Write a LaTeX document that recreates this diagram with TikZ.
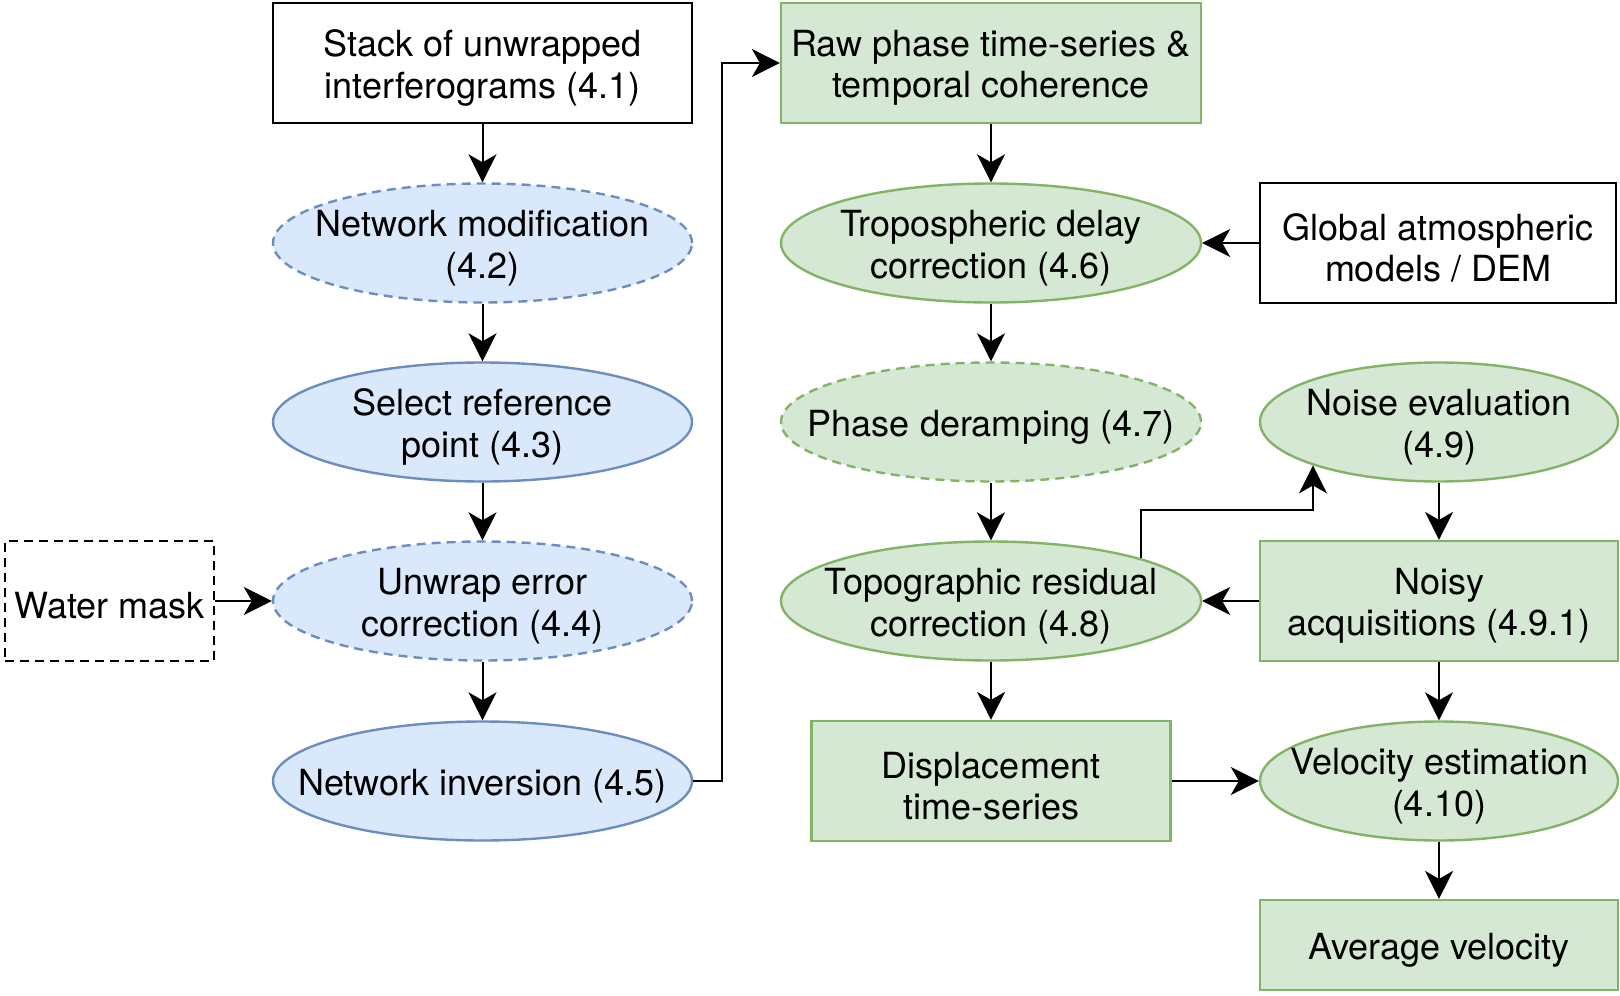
\documentclass[tikz,border=0pt]{standalone}
\usepackage{fontspec}
\setmainfont{TeX Gyre Heros}
\usetikzlibrary{shapes.geometric,arrows.meta}

\definecolor{bluefill}{HTML}{DAE8FC}
\definecolor{blueline}{HTML}{6C8EBF}
\definecolor{greenfill}{HTML}{D5E8D4}
\definecolor{greenline}{HTML}{82B366}

\tikzset{
  txt/.style={align=center, font=\fontsize{18pt}{20.7pt}\selectfont, inner sep=0pt},
  every label/.style={txt, yshift=-2.5pt},
  box/.style={rectangle, draw=black, line width=1.1pt, minimum height=60pt},
  greenbox/.style={box, draw=greenline, fill=greenfill},
  oval/.style={ellipse, line width=1.2pt, inner sep=0pt, minimum height=59.5pt},
  blueoval/.style={oval, draw=blueline, fill=bluefill},
  greenoval/.style={oval, draw=greenline, fill=greenfill},
  dashline/.style={dash pattern=on 4.5pt off 3pt},
  arr/.style={line width=1pt, -{Stealth[length=14pt, width=14pt, inset=4pt]}}
}

\begin{document}
\begin{tikzpicture}[x=0.5pt, y=-0.5pt]
\useasboundingbox (0,0) rectangle (1620,995);

% left column: interferogram processing
\node[box, minimum width=209.5pt,
  label={center:{Stack of unwrapped\\interferograms (4.1)}}] (stack) at (482.5,63) {};
\node[blueoval, dashline, minimum width=209.5pt,
  label={center:{Network modification\\(4.2)}}] (netmod) at (482.5,243) {};
\node[blueoval, minimum width=209.5pt,
  label={center:{Select reference\\point (4.3)}}] (selref) at (482.5,422) {};
\node[blueoval, dashline, minimum width=209.5pt,
  label={center:{Unwrap error\\correction (4.4)}}] (unwrap) at (482.5,601) {};
\node[blueoval, minimum width=209.5pt,
  label={center:{Network inversion (4.5)}}] (netinv) at (482.5,781) {};
\node[box, dashline, line width=1.2pt, minimum width=104.5pt,
  label={center:{Water mask}}] (water) at (109.5,601) {};

% middle column: time-series corrections
\node[greenbox, minimum width=210pt,
  label={center:{Raw phase time-series \&\\temporal coherence}}] (raw) at (991,63) {};
\node[greenoval, minimum width=210pt,
  label={center:{Tropospheric delay\\correction (4.6)}}] (tropo) at (991,243) {};
\node[greenoval, dashline, minimum width=210pt,
  label={center:{Phase deramping (4.7)}}] (deramp) at (991,422) {};
\node[greenoval, minimum width=210pt,
  label={center:{Topographic residual\\correction (4.8)}}] (topo) at (991,601) {};
\node[greenbox, minimum width=179.5pt,
  label={center:{Displacement\\time-series}}] (disp) at (991,781) {};

% right column: auxiliary data, noise and velocity
\node[box, minimum width=178pt,
  label={center:{Global atmospheric\\models / DEM}}] (global) at (1438,243) {};
\node[greenoval, minimum width=179pt,
  label={center:{Noise evaluation\\(4.9)}}] (noise) at (1439,422) {};
\node[greenbox, minimum width=179pt,
  label={center:{Noisy\\acquisitions (4.9.1)}}] (noisy) at (1439,601) {};
\node[greenoval, minimum width=179pt,
  label={center:{Velocity estimation\\(4.10)}}] (velo) at (1439,781) {};
\node[greenbox, minimum width=179pt, minimum height=45pt,
  label={center:{Average velocity}}] (avg) at (1439,945) {};

% bend points of the routed connectors
\coordinate (bend) at (722,63);
\coordinate (knee) at (1314,510);

% connectors
\draw[arr] (stack) -- (netmod);
\draw[arr] (netmod) -- (selref);
\draw[arr] (selref) -- (unwrap);
\draw[arr] (unwrap) -- (netinv);
\draw[arr] (water) -- (unwrap);
\draw[arr] (netinv.east) -| (bend) -- (raw.west);
\draw[arr] (raw) -- (tropo);
\draw[arr] (tropo) -- (deramp);
\draw[arr] (deramp) -- (topo);
\draw[arr] (topo) -- (disp);
\draw[arr] (global) -- (tropo);
\draw[arr] (noisy) -- (topo);
\draw[arr] (topo.16.45) |- (noise.199.2 |- knee) -- (noise.199.2);
\draw[arr] (noise) -- (noisy);
\draw[arr] (noisy) -- (velo);
\draw[arr] (velo) -- (avg);
\draw[arr] (disp) -- (velo);
\end{tikzpicture}
\end{document}
